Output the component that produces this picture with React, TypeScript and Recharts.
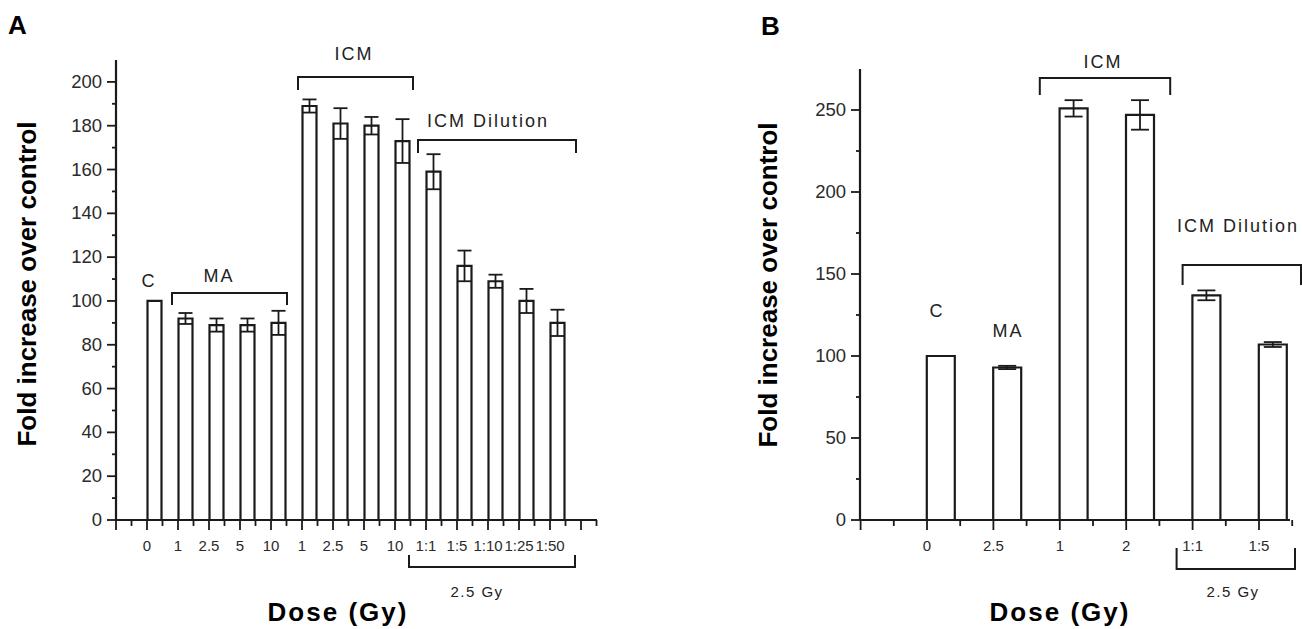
import React from "react";
import { Bar, BarChart, ErrorBar, XAxis, YAxis } from "recharts";

// Panel A
const dosesA = ["0", "1", "2.5", "5", "10", "1", "2.5", "5", "10", "1:1", "1:5", "1:10", "1:25", "1:50"];
const valuesA = [100, 92, 89, 89, 90, 189, 181, 180, 173, 159, 116, 109, 100, 90];
const errorsA = [0, 2.5, 3, 3, 5.5, 3, 7, 4, 10, 8, 7, 3, 5.5, 6];
const yMajorA = [0, 20, 40, 60, 80, 100, 120, 140, 160, 180, 200];
const yMinorA = [10, 30, 50, 70, 90, 110, 130, 150, 170, 190];

// Panel B
const dosesB = ["0", "2.5", "1", "2", "1:1", "1:5"];
const valuesB = [100, 93, 251, 247, 137, 107];
const errorsB = [0, 1, 5, 9, 3, 1.5];
const yMajorB = [0, 50, 100, 150, 200, 250];
const yMinorB = [25, 75, 125, 175, 225];

const FONT = "'Liberation Sans', Arial, sans-serif";
const INK = "#1a1a1a";

const dataA = dosesA.map((d, i) => ({ id: `a${i}`, dose: d, value: valuesA[i], err: errorsA[i] }));
const dataB = dosesB.map((d, i) => ({ id: `b${i}`, dose: d, value: valuesB[i], err: errorsB[i] }));

// label tick positions (left edge of each bar), page coords
const stepA = 31;
const tickA = (i: number) => 147 + stepA * i;
const stepB = 66.4;
const tickB = (i: number) => 927 + stepB * i;

function makeXTick(labels: string[], barSize: number, step: number, tailTicks: number) {
  return (props: any) => {
    const { x, y, index } = props;
    const lx = x - barSize / 2;
    const marks: [number, number][] = [
      [lx, 10],
      [lx + step / 2, 6],
    ];
    if (index === 0) marks.push([lx - step, 10], [lx - step / 2, 6]);
    if (index === labels.length - 1) {
      for (let k = 1; k <= tailTicks; k++) marks.push([lx + step / 2 + (k * step) / 2, k % 2 ? 10 : 6]);
    }
    return (
      <g>
        {marks.map(([m, len], k) => (
          <line key={k} x1={m} x2={m} y1={y} y2={y + len} stroke={INK} strokeWidth={1.8} />
        ))}
        <text x={lx} y={y + 31} textAnchor="middle" fontFamily={FONT} fontSize={15} fill="#2a2a2a">
          {labels[index]}
        </text>
      </g>
    );
  };
}

function makeYTick(major: number[]) {
  return (props: any) => {
    const { x, y, payload } = props;
    const isMajor = major.includes(payload.value);
    return (
      <g>
        <line x1={x - (isMajor ? 9 : 4)} x2={x} y1={y} y2={y} stroke={INK} strokeWidth={1.8} />
        {isMajor && (
          <text x={x - 14} y={y} dy={6} textAnchor="end" fontFamily={FONT} fontSize={18.5} fill="#2a2a2a">
            {payload.value}
          </text>
        )}
      </g>
    );
  };
}

const bracketDown = (x1: number, x2: number, y: number, h: number) => `M${x1},${y + h} V${y} H${x2} V${y + h}`;
const bracketUp = (x1: number, x2: number, y: number, h: number) => `M${x1},${y - h} V${y} H${x2} V${y - h}`;

function Note({ x, y, children, size = 18, spacing = 2 }: any) {
  return (
    <text x={x} y={y} textAnchor="middle" fontFamily={FONT} fontSize={size} letterSpacing={spacing} fill="#222">
      {children}
    </text>
  );
}

export default function App() {
  return (
    <div style={{ position: "absolute", left: 0, top: 0, width: 1302, height: 629, background: "#fff" }}>
      <div style={{ position: "absolute", left: 0, top: 0 }}>
        <BarChart width={620} height={629} data={dataA} margin={{ top: 60, right: 23, bottom: 69, left: 0 }}>
          <XAxis
            dataKey="id"
            height={40}
            interval={0}
            padding={{ left: 22.5, right: 24.5 }}
            tickSize={0}
            tickMargin={0}
            tickLine={false}
            axisLine={{ stroke: INK, strokeWidth: 2.2 }}
            tick={makeXTick(dosesA, 14, stepA, 2)}
          />
          <YAxis
            width={116}
            domain={[0, 210]}
            ticks={[...yMajorA, ...yMinorA].sort((a, b) => a - b)}
            interval={0}
            tickSize={0}
            tickMargin={0}
            tickLine={false}
            axisLine={{ stroke: INK, strokeWidth: 2.2 }}
            tick={makeYTick(yMajorA)}
          />
          <Bar dataKey="value" barSize={14} fill="#fff" stroke={INK} strokeWidth={2.2} isAnimationActive={false}>
            <ErrorBar dataKey="err" width={7} stroke={INK} strokeWidth={1.8} direction="y" isAnimationActive={false} />
          </Bar>
        </BarChart>
      </div>
      <div style={{ position: "absolute", left: 640, top: 0 }}>
        <BarChart width={662} height={629} data={dataB} margin={{ top: 69, right: 12, bottom: 69, left: 0 }}>
          <XAxis
            dataKey="id"
            height={40}
            interval={0}
            padding={{ left: 47.8, right: -16.2 }}
            tickSize={0}
            tickMargin={0}
            tickLine={false}
            axisLine={{ stroke: INK, strokeWidth: 2.2 }}
            tick={makeXTick(dosesB, 28, stepB, 0)}
          />
          <YAxis
            width={220}
            domain={[0, 275]}
            ticks={[...yMajorB, ...yMinorB].sort((a, b) => a - b)}
            interval={0}
            tickSize={0}
            tickMargin={0}
            tickLine={false}
            axisLine={{ stroke: INK, strokeWidth: 2.2 }}
            tick={makeYTick(yMajorB)}
          />
          <Bar dataKey="value" barSize={28} fill="#fff" stroke={INK} strokeWidth={2.2} isAnimationActive={false}>
            <ErrorBar dataKey="err" width={9} stroke={INK} strokeWidth={1.8} direction="y" isAnimationActive={false} />
          </Bar>
        </BarChart>
      </div>
      <svg width={1302} height={629} style={{ position: "absolute", left: 0, top: 0, pointerEvents: "none" }}>
        <g fill="none" stroke={INK} strokeWidth={2}>
          <path d={bracketDown(tickA(1) - 6, tickA(4) + 16, 293, 12)} />
          <path d={bracketDown(tickA(5) - 4, tickA(8) + 18, 77, 13)} />
          <path d={bracketDown(tickA(9) - 8, tickA(13) + 26, 140, 13)} />
          <path d={bracketUp(tickA(9) - 17, tickA(13) + 25, 567, 12)} />
          <path d={bracketDown(tickB(2) - 20, tickB(3) + 44, 78, 17)} />
          <path d={bracketDown(tickB(4) - 10, 1301, 265, 20)} />
          <path d={bracketUp(tickB(4) - 16, tickB(5) + 36, 569, 21)} />
        </g>
        <g fontFamily={FONT} fontWeight="bold" fill="#000">
          <text x={8} y={34} fontSize={26}>A</text>
          <text x={761} y={35} fontSize={26}>B</text>
          <text x={36} y={284} fontSize={26} textAnchor="middle" transform="rotate(-90 36 284)">
            Fold increase over control
          </text>
          <text x={777} y={285} fontSize={26} textAnchor="middle" transform="rotate(-90 777 285)">
            Fold increase over control
          </text>
          <text x={338} y={621} fontSize={26} letterSpacing={2} textAnchor="middle">Dose (Gy)</text>
          <text x={1060} y={621} fontSize={26} letterSpacing={2} textAnchor="middle">Dose (Gy)</text>
        </g>
        <Note x={149} y={287}>C</Note>
        <Note x={219} y={282}>MA</Note>
        <Note x={354} y={60}>ICM</Note>
        <Note x={488} y={127}>ICM Dilution</Note>
        <Note x={477} y={597} size={15} spacing={1.5}>2.5 Gy</Note>
        <Note x={937} y={317}>C</Note>
        <Note x={1008} y={337}>MA</Note>
        <Note x={1103} y={68}>ICM</Note>
        <Note x={1238} y={232}>ICM Dilution</Note>
        <Note x={1233} y={597} size={15} spacing={1.5}>2.5 Gy</Note>
      </svg>
    </div>
  );
}
